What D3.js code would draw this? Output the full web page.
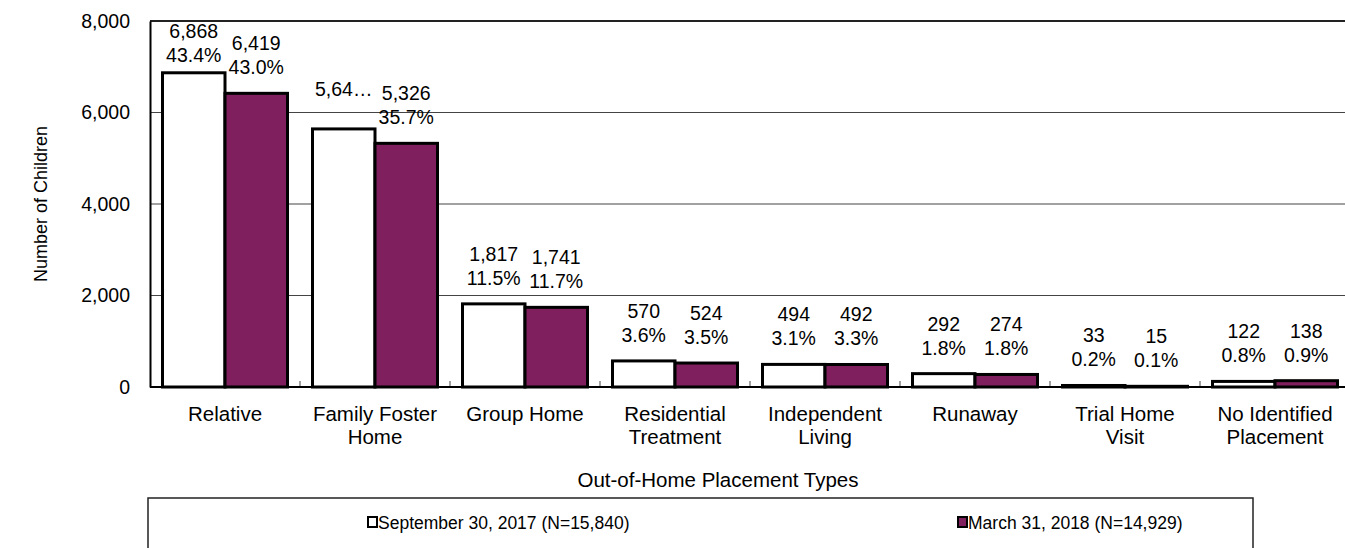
<!DOCTYPE html>
<html>
<head>
<meta charset="utf-8">
<script src="https://cdn.jsdelivr.net/npm/d3@7"></script>
<style>
  body { margin: 0; background: #fff; }
  text { font-family: "Liberation Sans", Arial, sans-serif; fill: #000; }
</style>
</head>
<body>
<script>
'use strict';

// chart data
const categories = [
  ["Relative"],
  ["Family Foster", "Home"],
  ["Group Home"],
  ["Residential", "Treatment"],
  ["Independent", "Living"],
  ["Runaway"],
  ["Trial Home", "Visit"],
  ["No Identified", "Placement"]
];
const seriesNames = ["September 30, 2017 (N=15,840)", "March 31, 2018 (N=14,929)"];
const sep2017 = [6868, 5641, 1817, 570, 494, 292, 33, 122];
const mar2018 = [6419, 5326, 1741, 524, 492, 274, 15, 138];
const sep2017Pct = ["43.4%", "", "11.5%", "3.6%", "3.1%", "1.8%", "0.2%", "0.8%"];
const mar2018Pct = ["43.0%", "35.7%", "11.7%", "3.5%", "3.3%", "1.8%", "0.1%", "0.9%"];
const sep2017Lbl = ["6,868", "5,64…", "1,817", "570", "494", "292", "33", "122"];
const mar2018Lbl = ["6,419", "5,326", "1,741", "524", "492", "274", "15", "138"];
const yTicks = [0, 2000, 4000, 6000, 8000];
const colors = ["#ffffff", "#7f1f5d"];

const W = 1345, H = 548;
const m = { left: 150, right: 1350, top: 21, bottom: 387 };

const svg = d3.select('body').append('svg')
  .attr('width', W)
  .attr('height', H);

const x = d3.scaleBand()
  .domain(d3.range(categories.length))
  .range([m.left, m.right])
  .paddingInner(1 / 6)
  .paddingOuter(1 / 12);

const xSub = d3.scaleBand()
  .domain([0, 1])
  .range([0, x.bandwidth()]);

const y = d3.scaleLinear()
  .domain([0, 8000])
  .range([m.bottom, m.top]);

// gridlines
svg.append('g')
  .selectAll('line')
  .data(yTicks.filter(d => d > 0))
  .enter()
  .append('line')
  .attr('x1', m.left)
  .attr('x2', m.right)
  .attr('y1', d => y(d))
  .attr('y2', d => y(d))
  .attr('stroke', d => d === 8000 ? '#222' : '#444')
  .attr('stroke-width', d => d === 8000 ? 2 : 1.2);

// y axis
const yAxis = d3.axisLeft(y)
  .tickValues(yTicks)
  .tickSize(0)
  .tickPadding(20)
  .tickFormat(d3.format(','));
const yg = svg.append('g')
  .attr('transform', 'translate(' + m.left + ',0)')
  .call(yAxis);
yg.select('.domain').attr('stroke', '#000').attr('stroke-width', 2);
yg.selectAll('text')
  .style('font-size', '19.5px')
  .style('font-family', '"Liberation Sans", Arial, sans-serif');

// category boundary ticks
const bounds = d3.range(1, categories.length);
svg.append('g')
  .selectAll('line')
  .data(bounds)
  .enter()
  .append('line')
  .attr('x1', d => x(d) - x.step() * x.paddingInner() / 2)
  .attr('x2', d => x(d) - x.step() * x.paddingInner() / 2)
  .attr('y1', m.bottom)
  .attr('y2', m.bottom - 6)
  .attr('stroke', '#444')
  .attr('stroke-width', 1);

// bars
const series = [sep2017, mar2018];
const pcts = [sep2017Pct, mar2018Pct];
const lbls = [sep2017Lbl, mar2018Lbl];

series.forEach((vals, s) => {
  svg.append('g')
    .selectAll('rect')
    .data(vals)
    .enter()
    .append('rect')
    .attr('x', (d, i) => x(i) + xSub(s))
    .attr('y', d => y(d))
    .attr('width', xSub.bandwidth())
    .attr('height', d => m.bottom - y(d))
    .attr('fill', colors[s])
    .attr('stroke', '#000')
    .attr('stroke-width', 3);
});

// baseline
svg.append('line')
  .attr('x1', m.left)
  .attr('x2', m.right)
  .attr('y1', m.bottom)
  .attr('y2', m.bottom)
  .attr('stroke', '#000')
  .attr('stroke-width', 2);

// data labels (kept inside the plot area, like Excel does)
series.forEach((vals, s) => {
  const g = svg.append('g');
  vals.forEach((v, i) => {
    const cx = x(i) + xSub(s) + xSub.bandwidth() / 2;
    const top = y(v);
    if (pcts[s][i] === "") {
      g.append('text')
        .attr('x', cx).attr('y', top - 33)
        .attr('text-anchor', 'middle')
        .style('font-size', '19.5px')
        .text(lbls[s][i]);
    } else {
      const base = Math.max(top - 43, m.top + 17);
      g.append('text')
        .attr('x', cx).attr('y', base)
        .attr('text-anchor', 'middle')
        .style('font-size', '19.5px')
        .text(lbls[s][i]);
      g.append('text')
        .attr('x', cx).attr('y', base + 24)
        .attr('text-anchor', 'middle')
        .style('font-size', '19.5px')
        .text(pcts[s][i]);
    }
  });
});

// category labels
categories.forEach((lines, i) => {
  const t = svg.append('text')
    .attr('x', x(i) + x.bandwidth() / 2)
    .attr('y', 421)
    .attr('text-anchor', 'middle')
    .style('font-size', '20.5px');
  lines.forEach((ln, k) => {
    t.append('tspan')
      .attr('x', x(i) + x.bandwidth() / 2)
      .attr('dy', k === 0 ? 0 : 23)
      .text(ln);
  });
});

// axis titles
svg.append('text')
  .attr('x', 718)
  .attr('y', 487)
  .attr('text-anchor', 'middle')
  .style('font-size', '20.5px')
  .text('Out-of-Home Placement Types');

svg.append('text')
  .attr('transform', 'translate(47, 204)rotate(-90)')
  .attr('text-anchor', 'middle')
  .style('font-size', '18px')
  .text('Number of Children');

// legend
svg.append('rect')
  .attr('x', 148)
  .attr('y', 498)
  .attr('width', 1105)
  .attr('height', 80)
  .attr('fill', 'none')
  .attr('stroke', '#222')
  .attr('stroke-width', 1.5);

const legendX = [368, 958];
seriesNames.forEach((name, s) => {
  svg.append('rect')
    .attr('x', legendX[s])
    .attr('y', 517)
    .attr('width', 9)
    .attr('height', 10)
    .attr('fill', colors[s])
    .attr('stroke', '#000')
    .attr('stroke-width', 2);
  svg.append('text')
    .attr('x', legendX[s] + 10)
    .attr('y', 529)
    .style('font-size', '17.5px')
    .text(name);
});
</script>
</body>
</html>
